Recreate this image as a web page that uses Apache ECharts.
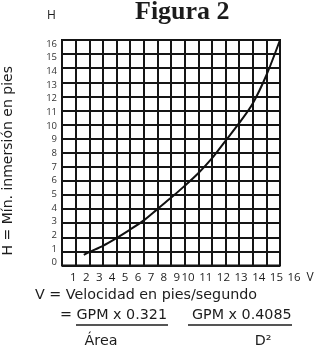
<!DOCTYPE html>
<html>
<head>
<meta charset="utf-8">
<script src="https://cdn.jsdelivr.net/npm/echarts@6/dist/echarts.min.js"></script>
<style>
  html, body { margin: 0; padding: 0; background: #fff; }
  #chart { width: 320px; height: 347px; }
</style>
</head>
<body>
<div id="chart"></div>
<script>
// Velocity (ft/s) and minimum submergence (ft) along the curve
const velocity    = [1.6, 2, 3, 4, 5, 6, 7, 8, 9, 10, 11, 12, 13, 14, 15, 16];
const submergence = [0.75, 0.95, 1.4, 1.95, 2.55, 3.2, 4.0, 4.8, 5.65, 6.55, 7.6, 8.85, 10.1, 11.5, 13.5, 16.0];

// Tick label ranges: one-digit and two-digit velocity labels are set as separate runs
const xTicksShort = [0, 9];
const xTicksLong  = [10, 16];
const yTicks      = [0, 16];

const titleText = 'Figura 2';
const yName = 'H = Mín. inmersión en pies';
const xCaption = 'V = Velocidad en pies/segundo';
const formulaA = 'GPM x 0.321';
const formulaB = 'GPM x 0.4085';
const denomA = 'Área';
const denomB = 'D²';

const sans = '"Open Sans", "Noto Sans", sans-serif';
const wide = '"DejaVu Sans", sans-serif';
const ink = '#1c1c1c';
const captionFont = '14.3px ' + wide;

const chart = echarts.init(document.getElementById('chart'), null, { renderer: 'canvas' });

const gridBox = (box) => Object.assign({ containLabel: false, outerBoundsMode: 'none' }, box);
const hiddenAxis = (gridIndex) => ({ type: 'value', gridIndex, show: false, min: 0, max: 1 });
const labelAxis = (gridIndex, range, extra) => Object.assign({
  type: 'value', gridIndex, min: range[0], max: range[1], interval: 1,
  axisLine: { show: false }, axisTick: { show: false }, splitLine: { show: false },
  axisLabel: { margin: 6, fontFamily: sans, fontSize: 11.5, color: ink }
}, extra || {});

chart.setOption({
  animation: false,
  backgroundColor: '#fff',
  title: {
    text: titleText,
    left: 135,
    top: -1,
    padding: 0,
    textStyle: { fontFamily: '"Liberation Serif", serif', fontWeight: 'bold', fontSize: 26, color: ink }
  },
  grid: [
    gridBox({ left: 62, right: 40, top: 40, bottom: 81.5, show: true, borderColor: '#111', borderWidth: 2 }),
    gridBox({ left: 60.4, right: 143.2, top: 40, bottom: 81.5 }),
    gridBox({ left: 188.1, right: 25.9, top: 40, bottom: 81.5 }),
    gridBox({ left: 62, right: 40, top: 44, bottom: 84.3 })
  ],
  xAxis: [
    {
      type: 'value', gridIndex: 0, min: 0, max: 16, interval: 1,
      axisLine: { show: false }, axisTick: { show: false }, axisLabel: { show: false },
      splitLine: { show: true, lineStyle: { color: '#151515', width: 2 } }
    },
    labelAxis(1, xTicksShort, { axisLabel: { showMinLabel: false, margin: 6, fontFamily: sans, fontSize: 11.5, color: ink } }),
    labelAxis(2, xTicksLong, {
      name: 'V', nameLocation: 'end', nameGap: 11,
      nameTextStyle: { fontFamily: sans, fontSize: 12, color: ink, verticalAlign: 'top', padding: [6, 0, 0, 0] }
    }),
    hiddenAxis(3)
  ],
  yAxis: [
    {
      type: 'value', gridIndex: 0, min: 0, max: 16, interval: 1,
      name: yName,
      nameLocation: 'middle',
      nameGap: 47,
      nameRotate: 90,
      nameTextStyle: { fontFamily: wide, fontSize: 14, color: ink, padding: [0, 16, 0, 0] },
      axisLine: { show: false }, axisTick: { show: false }, axisLabel: { show: false },
      splitLine: { show: true, lineStyle: { color: '#151515', width: 2 } }
    },
    hiddenAxis(1),
    hiddenAxis(2),
    labelAxis(3, yTicks, { axisLabel: { margin: 5, fontFamily: sans, fontSize: 9.5, color: '#333' } })
  ],
  series: [{
    type: 'line',
    xAxisIndex: 0, yAxisIndex: 0,
    data: velocity.map((v, i) => [v, submergence[i]]),
    showSymbol: false,
    smooth: 0.3,
    clip: false,
    lineStyle: { color: '#111', width: 2 }
  }],
  graphic: [
    { type: 'text', left: 47, top: 10, style: { text: 'H', font: '12px ' + sans, fill: ink } },
    { type: 'text', x: 35, y: 295, style: { text: xCaption, font: captionFont, fill: ink, textVerticalAlign: 'middle' } },
    { type: 'text', x: 60, y: 315, style: { text: '= ' + formulaA, font: captionFont, fill: ink, textVerticalAlign: 'middle' } },
    { type: 'line', shape: { x1: 76, y1: 325, x2: 168, y2: 325 }, style: { stroke: ink, lineWidth: 1.3 } },
    { type: 'text', x: 101, y: 341, style: { text: denomA, font: captionFont, fill: ink, textAlign: 'center', textVerticalAlign: 'middle' } },
    { type: 'text', x: 192, y: 315, style: { text: formulaB, font: captionFont, fill: ink, textVerticalAlign: 'middle' } },
    { type: 'line', shape: { x1: 188, y1: 325, x2: 292, y2: 325 }, style: { stroke: '#555', lineWidth: 2 } },
    { type: 'text', x: 263, y: 341, style: { text: denomB, font: captionFont, fill: ink, textAlign: 'center', textVerticalAlign: 'middle' } }
  ]
});
</script>
</body>
</html>
